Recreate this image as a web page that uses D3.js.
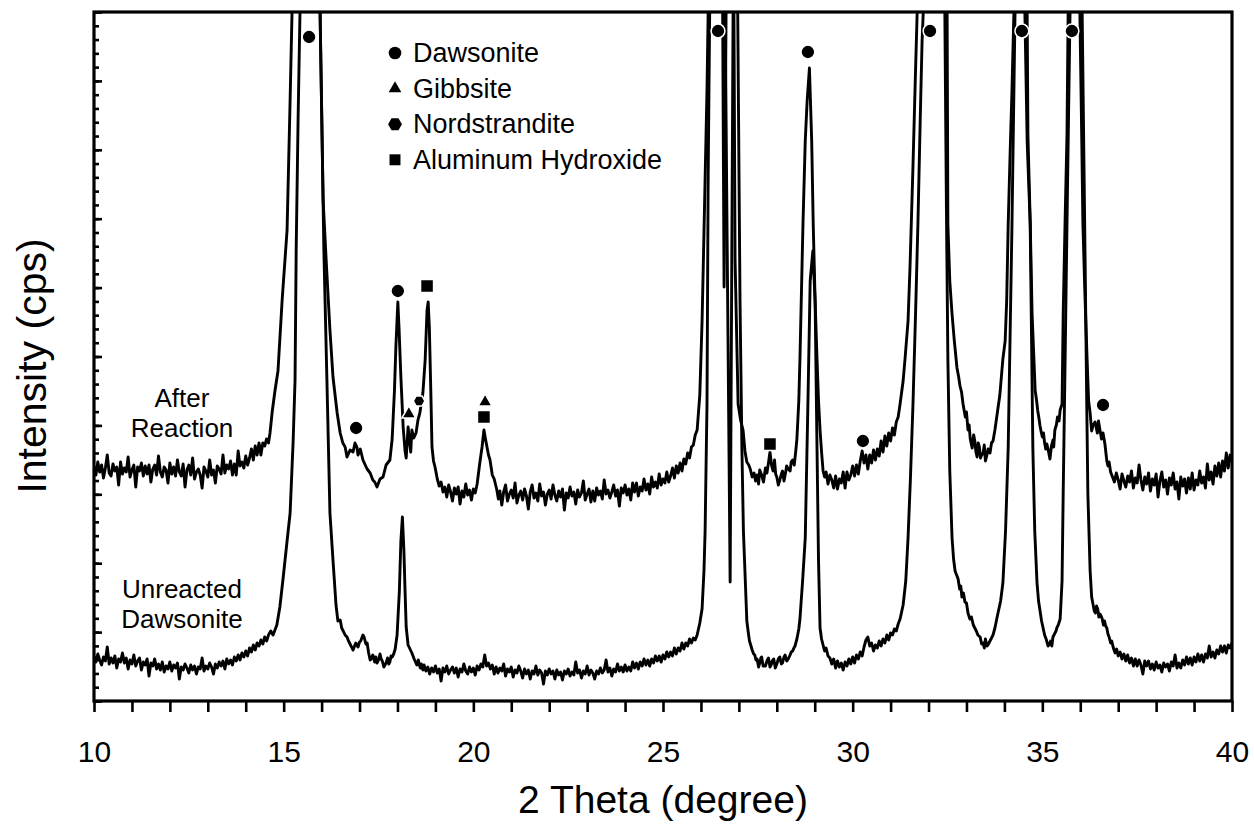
<!DOCTYPE html>
<html>
<head>
<meta charset="utf-8">
<script src="https://cdn.jsdelivr.net/npm/d3@7"></script>
<style>
  body { margin: 0; background: #ffffff; }
</style>
</head>
<body>
<svg id="svg" width="1254" height="840"></svg>
<script>
// XRD patterns, [2 theta, intensity] (arbitrary cps units)
const afterReaction = [
  [10.00,233],[10.05,226],[10.10,239],[10.15,229],[10.20,236],[10.25,223],[10.30,233],[10.35,246],[10.40,228],[10.45,225],
  [10.50,237],[10.55,230],[10.60,234],[10.65,216],[10.70,239],[10.75,227],[10.80,233],[10.85,229],[10.90,244],[10.95,224],
  [11.00,231],[11.05,236],[11.10,214],[11.15,234],[11.20,230],[11.25,238],[11.30,225],[11.35,235],[11.40,227],[11.45,236],
  [11.50,219],[11.55,232],[11.60,236],[11.65,226],[11.70,245],[11.75,229],[11.80,224],[11.85,234],[11.90,231],[11.95,218],
  [12.00,238],[12.05,227],[12.10,234],[12.15,225],[12.20,241],[12.25,229],[12.30,225],[12.35,237],[12.40,214],[12.45,231],
  [12.50,236],[12.55,226],[12.60,243],[12.65,222],[12.70,229],[12.75,232],[12.80,226],[12.85,213],[12.90,234],[12.95,230],
  [13.00,224],[13.05,241],[13.10,226],[13.15,231],[13.20,218],[13.25,235],[13.30,232],[13.35,227],[13.40,246],[13.45,228],
  [13.50,236],[13.55,232],[13.60,240],[13.65,226],[13.70,237],[13.75,226],[13.80,250],[13.85,235],[13.90,239],[13.95,233],
  [14.00,245],[14.05,236],[14.10,243],[14.15,252],[14.20,241],[14.25,255],[14.30,246],[14.35,258],[14.40,246],[14.45,258],
  [14.50,255],[14.55,262],[14.60,258],[14.64,268],[14.70,290],[14.77,310],[14.85,330],[14.96,401],[15.09,471],[15.17,601],
  [15.22,688],[15.59,2200],[15.96,688],[16.04,501],[16.12,441],[16.22,371],[16.30,324],[16.41,288],[16.49,268],[16.56,258],
  [16.62,254],[16.67,244],[16.75,251],[16.83,249],[16.88,258],[16.93,254],[16.96,246],[17.02,252],[17.09,241],[17.15,236],
  [17.20,232],[17.28,228],[17.35,221],[17.40,219],[17.46,214],[17.54,222],[17.62,224],[17.70,236],[17.80,241],[17.86,262],
  [17.92,310],[17.96,356],[18.01,399],[18.04,374],[18.09,324],[18.15,274],[18.20,250],[18.23,243],[18.28,274],[18.31,262],
  [18.35,249],[18.38,271],[18.43,263],[18.49,268],[18.54,281],[18.59,288],[18.67,308],[18.73,341],[18.78,391],[18.81,399],
  [18.84,374],[18.88,308],[18.91,254],[18.95,240],[18.99,234],[19.05,222],[19.10,215],[19.15,219],[19.20,209],[19.25,214],
  [19.30,204],[19.35,216],[19.40,209],[19.45,200],[19.50,213],[19.55,207],[19.60,214],[19.65,197],[19.70,210],[19.75,204],
  [19.80,217],[19.85,206],[19.90,211],[19.95,201],[20.00,212],[20.05,208],[20.10,217],[20.17,238],[20.23,254],[20.28,271],
  [20.32,262],[20.36,254],[20.40,246],[20.44,241],[20.50,226],[20.55,222],[20.62,211],[20.66,202],[20.70,210],[20.75,196],
  [20.80,209],[20.85,216],[20.90,200],[20.95,207],[21.00,211],[21.05,203],[21.10,218],[21.15,198],[21.20,206],[21.25,210],
  [21.30,201],[21.35,212],[21.40,205],[21.45,192],[21.50,209],[21.55,216],[21.60,203],[21.65,208],[21.70,200],[21.75,217],
  [21.80,205],[21.85,209],[21.90,196],[21.95,207],[22.00,211],[22.05,202],[22.10,216],[22.15,206],[22.20,200],[22.25,210],
  [22.30,204],[22.35,212],[22.40,191],[22.45,208],[22.50,203],[22.55,214],[22.60,205],[22.65,209],[22.70,197],[22.75,211],
  [22.80,204],[22.85,208],[22.90,220],[22.95,201],[23.00,207],[23.05,212],[23.10,199],[23.15,210],[23.20,200],[23.25,213],
  [23.30,206],[23.35,210],[23.40,202],[23.45,221],[23.50,207],[23.55,211],[23.60,203],[23.65,209],[23.70,216],[23.75,205],
  [23.80,211],[23.85,195],[23.90,213],[23.95,208],[24.00,216],[24.05,206],[24.10,212],[24.15,201],[24.20,218],[24.25,209],
  [24.30,218],[24.35,205],[24.40,214],[24.45,210],[24.50,222],[24.55,211],[24.60,217],[24.65,207],[24.70,224],[24.75,214],
  [24.80,219],[24.85,213],[24.90,227],[24.95,216],[25.00,222],[25.05,218],[25.10,229],[25.15,219],[25.20,225],[25.25,233],
  [25.30,223],[25.35,235],[25.40,228],[25.45,238],[25.50,230],[25.55,242],[25.60,237],[25.65,248],[25.70,243],[25.75,254],
  [25.80,256],[25.85,266],[25.90,271],[25.97,306],[26.03,380],[26.06,432],[26.12,540],[26.16,611],[26.19,688],[26.45,1600],
  [26.61,414],[26.78,1300],[26.87,688],[26.90,441],[26.98,297],[27.05,280],[27.11,271],[27.16,250],[27.21,239],[27.26,236],
  [27.30,232],[27.35,224],[27.40,228],[27.44,220],[27.48,226],[27.52,217],[27.55,231],[27.60,226],[27.65,219],[27.70,233],
  [27.74,228],[27.78,238],[27.82,249],[27.86,236],[27.90,230],[27.94,241],[27.97,227],[28.00,224],[28.04,216],[28.08,221],
  [28.12,227],[28.15,230],[28.19,220],[28.22,226],[28.26,235],[28.30,232],[28.35,230],[28.38,239],[28.42,241],[28.46,236],
  [28.50,250],[28.53,262],[28.58,300],[28.61,342],[28.69,477],[28.75,560],[28.80,600],[28.86,633],[28.92,560],[28.96,477],
  [29.01,400],[29.06,342],[29.10,300],[29.14,271],[29.18,249],[29.22,230],[29.26,224],[29.30,229],[29.35,217],[29.40,226],
  [29.45,221],[29.50,213],[29.55,225],[29.60,212],[29.65,222],[29.70,218],[29.75,229],[29.80,213],[29.85,229],[29.90,221],
  [29.95,226],[30.00,235],[30.05,225],[30.10,236],[30.15,227],[30.20,240],[30.25,250],[30.30,238],[30.35,246],[30.40,232],
  [30.45,246],[30.50,238],[30.55,251],[30.60,241],[30.65,252],[30.70,245],[30.75,260],[30.80,249],[30.85,265],[30.90,255],
  [30.95,268],[31.00,260],[31.05,273],[31.10,266],[31.15,279],[31.20,284],[31.25,297],[31.33,320],[31.38,342],[31.46,380],
  [31.51,432],[31.59,535],[31.65,620],[31.70,688],[32.10,2000],[32.49,688],[32.51,477],[32.56,420],[32.62,387],[32.68,360],
  [32.75,333],[32.79,325],[32.83,315],[32.87,309],[32.91,297],[32.97,284],[33.00,289],[33.04,271],[33.07,276],[33.10,262],
  [33.15,253],[33.19,266],[33.22,260],[33.25,249],[33.28,244],[33.31,258],[33.34,254],[33.37,243],[33.40,246],[33.44,248],
  [33.47,256],[33.50,240],[33.54,246],[33.57,252],[33.62,248],[33.66,258],[33.70,260],[33.75,271],[33.82,290],[33.88,306],
  [33.96,342],[34.02,360],[34.06,400],[34.10,477],[34.16,560],[34.20,611],[34.25,688],[34.42,1800],[34.60,688],[34.62,566],
  [34.68,480],[34.73,387],[34.78,340],[34.81,311],[34.85,300],[34.88,290],[34.91,283],[34.94,275],[34.97,269],[35.00,264],
  [35.03,268],[35.06,258],[35.09,252],[35.12,257],[35.16,250],[35.20,242],[35.24,255],[35.28,261],[35.30,254],[35.33,271],
  [35.37,276],[35.40,284],[35.44,280],[35.47,291],[35.52,297],[35.55,387],[35.60,480],[35.65,566],[35.68,688],[35.85,1800],
  [35.99,688],[36.04,560],[36.07,477],[36.12,410],[36.18,342],[36.22,300],[36.26,288],[36.30,270],[36.34,276],[36.39,279],
  [36.45,268],[36.48,280],[36.52,271],[36.56,262],[36.60,268],[36.65,257],[36.70,240],[36.73,235],[36.76,239],[36.80,229],
  [36.85,224],[36.90,219],[36.95,228],[37.00,221],[37.05,212],[37.10,227],[37.15,220],[37.20,214],[37.25,225],[37.30,219],
  [37.35,230],[37.40,213],[37.45,223],[37.50,218],[37.55,236],[37.60,221],[37.65,211],[37.70,224],[37.75,217],[37.80,228],
  [37.85,210],[37.90,222],[37.95,216],[38.00,227],[38.05,204],[38.10,220],[38.15,229],[38.20,214],[38.25,221],[38.30,207],
  [38.35,223],[38.40,216],[38.45,228],[38.50,212],[38.55,219],[38.60,202],[38.65,224],[38.70,215],[38.75,222],[38.80,208],
  [38.85,223],[38.90,212],[38.95,228],[39.00,211],[39.05,221],[39.10,216],[39.15,230],[39.20,218],[39.25,224],[39.30,213],
  [39.35,237],[39.40,221],[39.45,229],[39.50,217],[39.55,235],[39.60,225],[39.65,238],[39.70,224],[39.75,240],[39.80,230],
  [39.85,248],[39.90,233],[39.95,246],[40.00,239]
];

const unreactedDawsonite = [
  [10.00,45],[10.05,39],[10.10,47],[10.15,41],[10.20,36],[10.25,44],[10.30,40],[10.35,54],[10.40,37],[10.45,43],
  [10.50,38],[10.55,45],[10.60,33],[10.65,42],[10.70,39],[10.75,48],[10.80,38],[10.85,43],[10.90,32],[10.95,41],
  [11.00,37],[11.05,46],[11.10,35],[11.15,40],[11.20,43],[11.25,31],[11.30,39],[11.35,36],[11.40,42],[11.45,25],
  [11.50,38],[11.55,35],[11.60,42],[11.65,32],[11.70,37],[11.75,31],[11.80,39],[11.85,29],[11.90,35],[11.95,32],
  [12.00,39],[12.05,30],[12.10,36],[12.15,33],[12.20,38],[12.25,22],[12.30,34],[12.35,31],[12.40,37],[12.45,33],
  [12.50,28],[12.55,36],[12.60,31],[12.65,35],[12.70,27],[12.75,34],[12.80,32],[12.85,43],[12.90,30],[12.95,35],
  [13.00,32],[13.05,38],[13.10,34],[13.15,27],[13.20,37],[13.25,33],[13.30,39],[13.35,35],[13.40,40],[13.45,32],
  [13.50,42],[13.55,37],[13.60,41],[13.65,36],[13.70,44],[13.75,40],[13.80,46],[13.85,41],[13.90,48],[13.95,44],
  [14.00,50],[14.05,45],[14.10,53],[14.15,49],[14.20,56],[14.25,51],[14.30,58],[14.35,55],[14.40,61],[14.45,57],
  [14.50,64],[14.55,60],[14.60,66],[14.66,70],[14.72,66],[14.82,76],[14.90,94],[14.98,121],[15.09,160],[15.17,188],
  [15.25,260],[15.30,321],[15.33,451],[15.38,581],[15.43,688],[15.60,1800],[15.96,688],[16.06,451],[16.14,321],[16.22,188],
  [16.30,141],[16.38,96],[16.43,80],[16.49,81],[16.53,73],[16.57,70],[16.62,66],[16.67,64],[16.71,60],[16.75,57],
  [16.79,54],[16.83,51],[16.87,55],[16.90,58],[16.96,54],[17.00,59],[17.03,60],[17.06,63],[17.09,66],[17.12,64],
  [17.14,61],[17.17,57],[17.20,58],[17.24,48],[17.28,41],[17.32,43],[17.35,46],[17.40,39],[17.43,44],[17.46,38],
  [17.50,41],[17.54,47],[17.57,42],[17.60,40],[17.64,34],[17.67,36],[17.71,39],[17.74,43],[17.77,37],[17.80,39],
  [17.83,45],[17.86,44],[17.90,47],[17.94,52],[17.99,66],[18.05,110],[18.09,160],[18.13,184],[18.17,150],[18.20,110],
  [18.23,74],[18.28,56],[18.33,52],[18.38,48],[18.44,42],[18.51,36],[18.55,41],[18.60,33],[18.63,37],[18.67,31],
  [18.70,36],[18.75,30],[18.80,34],[18.85,27],[18.90,33],[18.95,29],[19.00,35],[19.05,28],[19.10,32],[19.15,20],
  [19.20,33],[19.25,29],[19.30,35],[19.35,27],[19.40,31],[19.45,34],[19.50,28],[19.55,33],[19.60,24],[19.65,32],
  [19.70,29],[19.75,37],[19.80,30],[19.85,27],[19.90,34],[19.95,29],[20.00,33],[20.05,26],[20.10,35],[20.15,31],
  [20.20,37],[20.25,34],[20.30,46],[20.35,35],[20.40,38],[20.45,32],[20.50,36],[20.55,27],[20.60,34],[20.65,28],
  [20.70,33],[20.75,30],[20.80,37],[20.85,25],[20.90,32],[20.95,29],[21.00,34],[21.05,24],[21.10,31],[21.15,28],
  [21.20,35],[21.25,30],[21.30,23],[21.35,32],[21.40,27],[21.45,31],[21.50,22],[21.55,30],[21.60,27],[21.65,35],
  [21.70,26],[21.75,31],[21.80,28],[21.85,17],[21.90,30],[21.95,26],[22.00,32],[22.05,27],[22.10,30],[22.15,22],
  [22.20,31],[22.25,26],[22.30,29],[22.35,21],[22.40,30],[22.45,27],[22.50,32],[22.55,25],[22.60,29],[22.65,26],
  [22.70,39],[22.75,28],[22.80,31],[22.85,23],[22.90,30],[22.95,27],[23.00,35],[23.05,26],[23.10,31],[23.15,28],
  [23.20,22],[23.25,30],[23.30,27],[23.35,33],[23.40,28],[23.45,31],[23.50,41],[23.55,29],[23.60,33],[23.65,25],
  [23.70,32],[23.75,29],[23.80,37],[23.85,30],[23.90,34],[23.95,29],[24.00,36],[24.05,30],[24.10,34],[24.15,30],
  [24.20,39],[24.25,33],[24.30,38],[24.35,32],[24.40,39],[24.45,35],[24.50,42],[24.55,36],[24.60,41],[24.65,35],
  [24.70,42],[24.75,38],[24.80,45],[24.85,40],[24.90,45],[24.95,39],[25.00,46],[25.05,42],[25.10,49],[25.15,44],
  [25.20,49],[25.25,45],[25.30,53],[25.35,47],[25.40,53],[25.45,50],[25.50,58],[25.55,52],[25.60,58],[25.65,55],
  [25.70,62],[25.75,58],[25.80,63],[25.85,61],[25.90,66],[25.97,78],[26.03,92],[26.08,130],[26.11,170],[26.16,297],
  [26.19,522],[26.23,688],[26.45,1500],[26.77,119],[26.93,1300],[26.97,688],[27.03,401],[27.08,253],[27.12,170],[27.16,130],
  [27.21,80],[27.25,68],[27.28,60],[27.32,55],[27.35,51],[27.39,47],[27.42,46],[27.45,41],[27.48,42],[27.52,34],
  [27.55,38],[27.58,43],[27.60,44],[27.64,35],[27.70,35],[27.74,40],[27.78,43],[27.82,34],[27.85,36],[27.88,40],
  [27.92,42],[27.96,33],[28.00,37],[28.04,42],[28.08,44],[28.12,37],[28.15,38],[28.19,44],[28.22,46],[28.26,40],
  [28.30,42],[28.35,46],[28.38,49],[28.42,50],[28.45,53],[28.48,55],[28.53,62],[28.58,72],[28.61,82],[28.68,120],
  [28.75,163],[28.82,297],[28.88,420],[28.95,450],[29.01,400],[29.06,253],[29.10,140],[29.14,73],[29.18,62],[29.22,56],
  [29.26,50],[29.30,53],[29.35,45],[29.40,43],[29.45,37],[29.50,42],[29.55,33],[29.60,40],[29.65,34],[29.70,38],
  [29.75,31],[29.80,39],[29.85,35],[29.90,42],[29.95,37],[30.00,44],[30.05,38],[30.10,46],[30.15,42],[30.20,49],
  [30.25,45],[30.30,54],[30.35,61],[30.40,64],[30.45,55],[30.50,58],[30.55,50],[30.60,56],[30.65,53],[30.70,60],
  [30.75,55],[30.80,62],[30.85,58],[30.90,66],[30.95,61],[31.00,68],[31.05,66],[31.10,72],[31.15,70],[31.20,77],
  [31.25,82],[31.33,96],[31.40,120],[31.46,163],[31.52,220],[31.59,297],[31.66,390],[31.72,477],[31.78,580],[31.83,660],
  [31.86,688],[32.15,1800],[32.43,688],[32.47,500],[32.51,342],[32.56,230],[32.62,163],[32.66,142],[32.70,130],[32.74,126],
  [32.78,122],[32.82,112],[32.85,115],[32.88,104],[32.92,108],[32.96,99],[33.00,98],[33.04,88],[33.09,82],[33.13,84],
  [33.18,76],[33.22,73],[33.26,70],[33.30,66],[33.36,64],[33.40,57],[33.44,58],[33.47,53],[33.50,62],[33.54,55],
  [33.58,57],[33.62,60],[33.66,63],[33.70,66],[33.75,73],[33.82,86],[33.90,100],[33.96,118],[34.03,170],[34.10,253],
  [34.20,477],[34.28,688],[34.42,1500],[34.54,688],[34.60,560],[34.68,477],[34.75,253],[34.80,170],[34.86,118],[34.90,100],
  [34.94,90],[34.98,80],[35.02,73],[35.06,66],[35.10,62],[35.13,58],[35.15,55],[35.19,57],[35.22,60],[35.25,55],
  [35.28,64],[35.32,67],[35.36,70],[35.39,74],[35.42,76],[35.47,82],[35.52,120],[35.55,208],[35.60,340],[35.65,477],
  [35.73,688],[35.90,1500],[36.05,688],[36.09,560],[36.13,432],[36.17,300],[36.20,208],[36.26,130],[36.30,104],[36.34,96],
  [36.37,90],[36.40,88],[36.43,95],[36.46,92],[36.49,84],[36.52,87],[36.55,85],[36.58,82],[36.61,76],[36.64,80],
  [36.67,75],[36.70,73],[36.73,67],[36.76,64],[36.80,58],[36.83,60],[36.86,55],[36.89,51],[36.92,48],[36.96,52],
  [37.00,45],[37.05,49],[37.10,42],[37.15,47],[37.20,40],[37.25,46],[37.30,38],[37.35,43],[37.40,35],[37.45,42],
  [37.50,35],[37.55,41],[37.60,36],[37.65,27],[37.70,40],[37.75,35],[37.80,40],[37.85,32],[37.90,37],[37.95,31],
  [38.00,39],[38.05,33],[38.10,36],[38.15,29],[38.20,38],[38.25,34],[38.30,37],[38.35,30],[38.40,39],[38.45,35],
  [38.50,46],[38.55,33],[38.60,38],[38.65,33],[38.70,41],[38.75,36],[38.80,44],[38.85,37],[38.90,43],[38.95,36],
  [39.00,44],[39.05,39],[39.10,47],[39.15,40],[39.20,46],[39.25,39],[39.30,47],[39.35,43],[39.40,55],[39.45,44],
  [39.50,49],[39.55,43],[39.60,51],[39.65,47],[39.70,55],[39.75,49],[39.80,55],[39.85,48],[39.90,56],[39.95,53],
  [40.00,58]
];

// phase markers, [2 theta, intensity]
const dawsonitePeaks = [[15.67,664],[16.91,273],[18.01,410],[26.45,670],[28.82,649],[30.27,260],[32.04,670],[34.46,670],[35.78,670],[36.6,296]];
const gibbsitePeaks = [[18.30,287],[20.31,299]];
const nordstranditePeaks = [[18.57,300]];
const alHydroxidePeaks = [[18.78,415],[20.28,284],[27.82,257]];

const legendLabels = ["Dawsonite", "Gibbsite", "Nordstrandite", "Aluminum Hydroxide"];
const xTickLabels = [10, 15, 20, 25, 30, 35, 40];
const seriesLabels = [["After", "Reaction"], ["Unreacted", "Dawsonite"]];

//Layout
const FONT = "Liberation Sans, Arial, Helvetica, sans-serif";
const PLOT = {left: 94, right: 1232, top: 12, bottom: 701};

const svg = d3.select("#svg");

const x = d3.scaleLinear().domain([10, 40]).range([PLOT.left, PLOT.right]);
const y = d3.scaleLinear().domain([0, 689]).range([PLOT.bottom, PLOT.top]);

svg.append("clipPath").attr("id", "plot-clip")
  .append("rect")
  .attr("x", PLOT.left).attr("y", PLOT.top)
  .attr("width", PLOT.right - PLOT.left).attr("height", PLOT.bottom - PLOT.top);

//Patterns
const line = d3.line().x(d => x(d[0])).y(d => y(d[1]));
svg.append("g").attr("clip-path", "url(#plot-clip)")
  .selectAll("path")
  .data([afterReaction, unreactedDawsonite])
  .join("path")
  .attr("d", line)
  .attr("fill", "none")
  .attr("stroke", "#000")
  .attr("stroke-width", 2.9)
  .attr("stroke-linejoin", "round");

//Frame
svg.append("rect")
  .attr("x", PLOT.left).attr("y", PLOT.top)
  .attr("width", PLOT.right - PLOT.left).attr("height", PLOT.bottom - PLOT.top)
  .attr("fill", "none").attr("stroke", "#000").attr("stroke-width", 3.2);

//X axis
const xAxis = d3.axisBottom(x)
  .tickValues(d3.range(10, 41, 1))
  .tickSize(11)
  .tickPadding(29)
  .tickFormat(d => xTickLabels.includes(d) ? d : "");
svg.append("g")
  .attr("transform", `translate(0,${PLOT.bottom})`)
  .call(xAxis)
  .attr("font-family", FONT).attr("font-size", 30)
  .call(g => g.select(".domain").remove())
  .call(g => g.selectAll(".tick line").attr("stroke-width", 2.6))
  .call(g => g.selectAll(".tick text").attr("fill", "#000"));

//Y axis ticks (no labels, pointing inward)
const yMinor = d3.range(51).map(i => i * 689 / 50);
const yMajor = yMinor.filter((d, i) => i % 5 === 0);
[[yMinor, 5], [yMajor, 8]].forEach(([vals, len]) => {
  svg.append("g")
    .attr("transform", `translate(${PLOT.left},0)`)
    .call(d3.axisLeft(y).tickValues(vals).tickSize(-len).tickFormat(""))
    .call(g => g.select(".domain").remove())
    .call(g => g.selectAll(".tick line").attr("stroke-width", 2.6));
});

//Axis titles
svg.append("text")
  .attr("x", 663).attr("y", 813)
  .attr("text-anchor", "middle")
  .attr("font-family", FONT).attr("font-size", 39)
  .text("2 Theta (degree)");

svg.append("text")
  .attr("transform", "translate(46,366) rotate(-90)")
  .attr("text-anchor", "middle")
  .attr("font-family", FONT).attr("font-size", 41)
  .text("Intensity (cps)");

//Series labels
const labelY = [[407, 437], [598, 628]];
seriesLabels.forEach((lines, i) => {
  lines.forEach((t, j) => {
    svg.append("text")
      .attr("x", 182).attr("y", labelY[i][j])
      .attr("text-anchor", "middle")
      .attr("font-family", FONT).attr("font-size", 26)
      .text(t);
  });
});

//Symbols
const hexagon = {
  draw(context, size) {
    const r = Math.sqrt(size / (1.5 * Math.sqrt(3)));
    for (let i = 0; i < 6; i++) {
      const a = i * Math.PI / 3;
      if (i === 0) context.moveTo(r * Math.cos(a), r * Math.sin(a));
      else context.lineTo(r * Math.cos(a), r * Math.sin(a));
    }
    context.closePath();
  }
};
const phaseSymbols = [
  {data: dawsonitePeaks, type: d3.symbolCircle, size: 150, legendSize: 125},
  {data: gibbsitePeaks, type: d3.symbolTriangle, size: 85, legendSize: 70},
  {data: nordstranditePeaks, type: hexagon, size: 90, legendSize: 125},
  {data: alHydroxidePeaks, type: d3.symbolSquare, size: 170, legendSize: 120}
];

phaseSymbols.forEach(s => {
  svg.append("g")
    .selectAll("path")
    .data(s.data)
    .join("path")
    .attr("d", d3.symbol().type(s.type).size(s.size))
    .attr("transform", d => `translate(${x(d[0])},${y(d[1])})`)
    .attr("fill", "#000")
    .attr("stroke", "#fff")
    .attr("stroke-width", 1.5);
});

//Legend
const legend = svg.append("g").attr("transform", "translate(395,0)");
legendLabels.forEach((label, i) => {
  const base = 62 + i * 35.6;
  legend.append("path")
    .attr("d", d3.symbol().type(phaseSymbols[i].type).size(phaseSymbols[i].legendSize))
    .attr("transform", `translate(0,${base - 9})`)
    .attr("fill", "#000");
  legend.append("text")
    .attr("x", 18).attr("y", base)
    .attr("font-family", FONT).attr("font-size", 27)
    .text(label);
});
</script>
</body>
</html>
